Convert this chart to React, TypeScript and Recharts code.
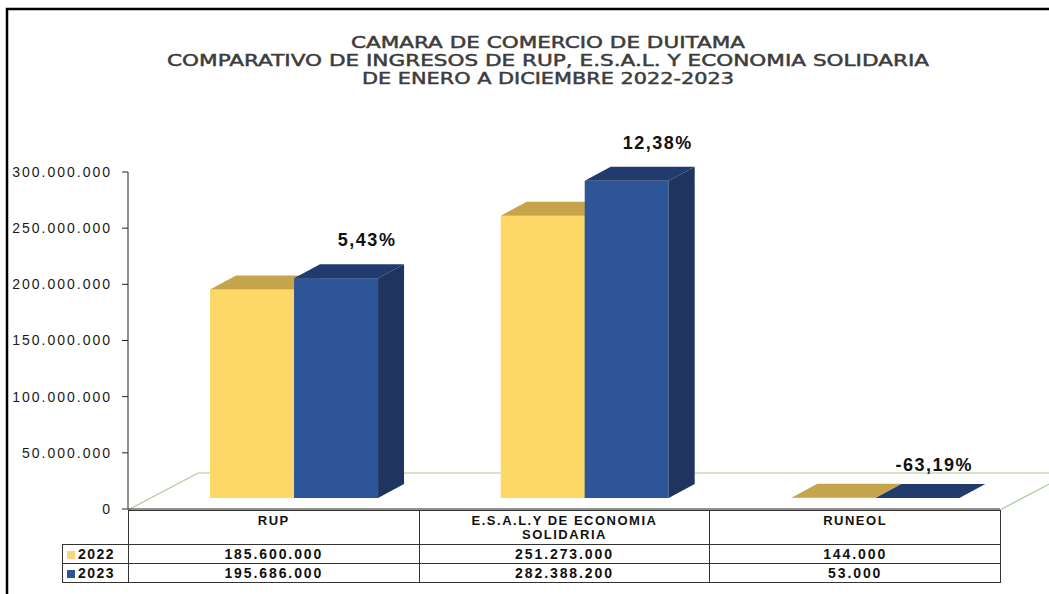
import React from 'react';
import { BarChart, Bar, XAxis, YAxis, LabelList } from 'recharts';

const categories = ['RUP', 'E.S.A.L.Y DE ECONOMIA SOLIDARIA', 'RUNEOL'];
const values2022 = [185600000, 251273000, 144000];
const values2023 = [195686000, 282388200, 53000];
const changeLabels = ['5,43%', '12,38%', '-63,19%'];
const years = ['2022', '2023'];
const yTicks = [0, 50000000, 100000000, 150000000, 200000000, 250000000, 300000000];
const titleLines = [
  'CAMARA DE COMERCIO  DE DUITAMA',
  'COMPARATIVO  DE INGRESOS DE RUP, E.S.A.L.  Y   ECONOMIA SOLIDARIA',
  'DE ENERO A  DICIEMBRE  2022-2023',
];

const W = 1049;
const H = 594;
const PLOT_LEFT = 128;
const PLOT_RIGHT = 1000;
const PLOT_TOP = 172;
const PLOT_BOTTOM = 510;
// bars sit a little behind the front edge of the floor
const SHIFT_X = 21;
const SHIFT_Y = -11;
const DEPTH_X = 26;
const DEPTH_Y = 14;
const FLOOR_DX = 70;
const FLOOR_DY = 37;

const colors2022 = { front: '#FDD867', top: '#C6A44B', side: '#B8963F' };
const colors2023 = { front: '#2E5597', top: '#213B6E', side: '#1F355F' };
const legendColors = ['#F6D57E', '#2E5597'];

const data = categories.map((name, i) => ({
  name,
  v2022: values2022[i],
  v2023: values2023[i],
  change: changeLabels[i],
}));

const fmt = (n: number) => String(n).replace(/\B(?=(\d{3})+(?!\d))/g, '.');

function make3D(c: { front: string; top: string; side: string }) {
  return (props: any) => {
    const { x, y, width, height } = props;
    if (x == null || y == null) return null;
    const fx = x + SHIFT_X;
    const fy = y + SHIFT_Y;
    const bottom = fy + Math.max(height, 0);
    const right = fx + width;
    return (
      <g>
        <rect x={fx} y={fy} width={width} height={Math.max(height, 0)} fill={c.front} />
        <polygon
          points={`${right},${fy} ${right + DEPTH_X},${fy - DEPTH_Y} ${right + DEPTH_X},${bottom - DEPTH_Y} ${right},${bottom}`}
          fill={c.side}
        />
        <polygon
          points={`${fx},${fy} ${right},${fy} ${right + DEPTH_X},${fy - DEPTH_Y} ${fx + DEPTH_X},${fy - DEPTH_Y}`}
          fill={c.top}
        />
      </g>
    );
  };
}

const renderChange = (props: any) => {
  const { x, y, width, height, value } = props;
  // short bars get their label pulled slightly left, as in the source sheet
  const k = height > 20 ? 0.87 : 0.7;
  return (
    <text
      x={x + SHIFT_X + width * k}
      y={y + SHIFT_Y - DEPTH_Y - (height > 20 ? 18 : 13)}
      textAnchor="middle"
      fontFamily="'Liberation Sans', Arial, sans-serif"
      fontWeight="bold"
      fontSize={18}
      letterSpacing={1.5}
      fill="#111"
    >
      {value}
    </text>
  );
};

const cellBorder = '1px solid #333';
const tableFont: React.CSSProperties = {
  fontFamily: "'Liberation Sans', Arial, sans-serif",
  fontWeight: 'bold',
  fontSize: 14,
  color: '#111',
  textAlign: 'center',
  padding: 0,
};

export default function App() {
  const colW = (PLOT_RIGHT - PLOT_LEFT) / categories.length;
  return (
    <div style={{ position: 'absolute', left: 0, top: 0, width: W, height: H, background: '#fff', overflow: 'hidden' }}>
      <svg width={W} height={H} style={{ position: 'absolute', left: 0, top: 0 }}>
        <rect x={7} y={9} width={W + 20} height={H + 20} fill="none" stroke="#000" strokeWidth={2.5} />
        {titleLines.map((t, i) => (
          <text
            key={i}
            x={548}
            y={48 + i * 18}
            textAnchor="middle"
            fontFamily="'DejaVu Sans', sans-serif"
            fontSize={15}
            fill="#3c3c3c"
            stroke="#3c3c3c"
            strokeWidth={0.45}
            textLength={[394, 762, 372][i]}
            lengthAdjust="spacingAndGlyphs"
          >
            {t}
          </text>
        ))}
        <polyline
          points={`${PLOT_LEFT},${PLOT_BOTTOM} ${PLOT_LEFT + FLOOR_DX},${PLOT_BOTTOM - FLOOR_DY} ${W + 10},${PLOT_BOTTOM - FLOOR_DY}`}
          fill="none"
          stroke="#A9CB96"
          strokeWidth={1.2}
        />
        <line
          x1={PLOT_RIGHT}
          y1={PLOT_BOTTOM}
          x2={PLOT_RIGHT + FLOOR_DX}
          y2={PLOT_BOTTOM - FLOOR_DY}
          stroke="#A9CB96"
          strokeWidth={1.2}
        />
      </svg>
      <div style={{ position: 'absolute', left: 0, top: 0 }}>
        <BarChart
          width={W}
          height={H}
          data={data}
          margin={{ top: PLOT_TOP, right: W - PLOT_RIGHT, bottom: H - PLOT_BOTTOM, left: PLOT_LEFT - 120 }}
          barCategoryGap="21%"
          barGap={0}
        >
          <XAxis dataKey="name" tick={false} tickLine={false} axisLine={{ stroke: '#222' }} height={1} />
          <YAxis
            width={120}
            domain={[0, 300000000]}
            ticks={yTicks}
            tickFormatter={fmt}
            axisLine={{ stroke: '#222' }}
            tickLine={{ stroke: '#222' }}
            tickSize={6}
            tickMargin={10}
            tick={{ fill: '#1a1a1a', fontSize: 14, fontFamily: "'Liberation Sans', Arial, sans-serif", letterSpacing: 2 }}
          />
          <Bar dataKey="v2022" isAnimationActive={false} shape={make3D(colors2022)} />
          <Bar dataKey="v2023" isAnimationActive={false} shape={make3D(colors2023)}>
            <LabelList dataKey="change" content={renderChange} />
          </Bar>
        </BarChart>
      </div>
      <table
        style={{
          position: 'absolute',
          left: 62,
          top: PLOT_BOTTOM,
          borderCollapse: 'collapse',
          tableLayout: 'fixed',
          width: PLOT_RIGHT - 62 + 1,
        }}
      >
        <colgroup>
          <col style={{ width: PLOT_LEFT - 62 }} />
          {categories.map((c) => (
            <col key={c} style={{ width: colW }} />
          ))}
        </colgroup>
        <tbody>
          <tr style={{ height: 34 }}>
            <td style={{ border: 'none' }} />
            {categories.map((c) => (
              <td
                key={c}
                style={{ ...tableFont, fontSize: 13, letterSpacing: 1.5, border: cellBorder, verticalAlign: 'top', paddingTop: 3, lineHeight: '14px' }}
              >
                {c === categories[1] ? (
                  <>
                    E.S.A.L.Y DE ECONOMIA
                    <br />
                    SOLIDARIA
                  </>
                ) : (
                  c
                )}
              </td>
            ))}
          </tr>
          {[values2022, values2023].map((vals, r) => (
            <tr key={r} style={{ height: 19 }}>
              <td style={{ ...tableFont, border: cellBorder, textAlign: 'left', paddingLeft: 4, letterSpacing: 1.5, lineHeight: '17px' }}>
                <span style={{ display: 'inline-block', width: 8, height: 8, background: legendColors[r], marginRight: 3 }} />
                {years[r]}
              </td>
              {vals.map((v, i) => (
                <td key={i} style={{ ...tableFont, border: cellBorder, letterSpacing: 1.9, lineHeight: '17px' }}>
                  {fmt(v)}
                </td>
              ))}
            </tr>
          ))}
        </tbody>
      </table>
    </div>
  );
}
